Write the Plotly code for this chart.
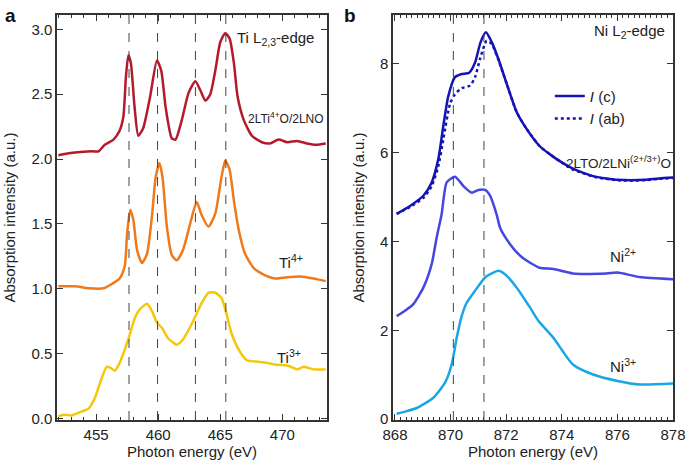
import plotly.graph_objects as go
from plotly.subplots import make_subplots

# ---- panel a: Ti L2,3-edge ----
ti_lno_e = [451.96, 453.3, 454.65, 455.2, 455.7, 456.4, 456.9, 457.2, 457.4, 457.6, 457.8, 458.1,
            458.4, 458.8, 459.35, 459.9, 460.25, 460.6, 461.1, 461.4, 461.9, 462.45, 463.0, 463.4,
            463.8, 464.2, 464.6, 465.0, 465.4, 465.75, 466.1, 466.4, 466.9, 467.55, 468.35, 469.0,
            469.7, 470.4, 471.2, 472.0, 472.7, 473.5]
ti_lno_v = [2.03, 2.05, 2.06, 2.06, 2.11, 2.15, 2.22, 2.33, 2.63, 2.80, 2.74, 2.40,
            2.18, 2.24, 2.48, 2.76, 2.68, 2.40, 2.16, 2.15, 2.30, 2.51, 2.60, 2.53,
            2.45, 2.50, 2.68, 2.90, 2.97, 2.93, 2.74, 2.48, 2.30, 2.18, 2.13, 2.12,
            2.15, 2.13, 2.14, 2.12, 2.11, 2.12]

ti4_e = [451.96, 453.3, 454.4, 455.6, 456.3, 456.9, 457.3, 457.5, 457.75, 458.0, 458.3, 458.7,
         459.1, 459.5, 459.8, 460.1, 460.35, 460.7, 461.1, 461.5, 462.0, 462.6, 463.1, 463.5,
         464.05, 464.6, 465.1, 465.4, 465.75, 466.1, 466.5, 467.0, 467.7, 468.5, 469.4, 470.4,
         471.45, 472.5, 473.5]
ti4_v = [1.02, 1.02, 1.005, 1.005, 1.04, 1.08, 1.17, 1.43, 1.61, 1.53, 1.30, 1.20,
         1.27, 1.56, 1.86, 1.97, 1.86, 1.48, 1.26, 1.22, 1.30, 1.51, 1.67, 1.57,
         1.48, 1.58, 1.86, 1.99, 1.92, 1.68, 1.45, 1.27, 1.16, 1.11, 1.08, 1.09,
         1.095, 1.08, 1.06]

ti3_e = [451.96, 452.5, 453.0, 453.7, 454.4, 454.9, 455.3, 455.85, 456.2, 456.5, 456.9, 457.3,
         457.75, 458.1, 458.5, 459.1, 459.5, 459.9, 460.3, 460.8, 461.5, 462.0, 462.6, 463.0,
         463.5, 464.05, 464.6, 465.1, 465.5, 465.9, 466.5, 467.15, 467.95, 468.75, 469.6, 470.4,
         471.2, 471.7, 472.5, 473.5]
ti3_v = [0.02, 0.03, 0.025, 0.05, 0.08, 0.16, 0.27, 0.40, 0.39, 0.37, 0.43, 0.53,
         0.66, 0.77, 0.84, 0.885, 0.83, 0.74, 0.70, 0.62, 0.57, 0.61, 0.71, 0.79,
         0.89, 0.97, 0.97, 0.93, 0.81, 0.66, 0.53, 0.45, 0.44, 0.43, 0.415, 0.41,
         0.38, 0.40, 0.38, 0.38]

ti_marks = [457.65, 459.95, 463.0, 465.45]

# ---- panel b: Ni L2-edge ----
ni_c_e = [868.06, 868.54, 869.02, 869.32, 869.56, 869.74, 869.92, 870.16, 870.4, 870.67, 870.88,
          871.08, 871.27, 871.48, 871.72, 872.02, 872.38, 872.74, 873.2, 873.6, 874.0, 874.4,
          874.8, 875.2, 875.6, 876.0, 876.5, 877.0, 877.5, 878.0]
ni_c_v = [4.62, 4.80, 5.03, 5.33, 5.86, 6.61, 7.28, 7.70, 7.77, 7.80, 8.03,
          8.49, 8.71, 8.49, 8.11, 7.55, 6.91, 6.53, 6.15, 5.95, 5.78, 5.64,
          5.54, 5.46, 5.42, 5.39, 5.38, 5.39, 5.42, 5.44]

ni_ab_e = [868.06, 868.54, 869.02, 869.32, 869.56, 869.74, 869.98, 870.16, 870.4, 870.7, 870.88,
           871.06, 871.3, 871.48, 871.72, 872.02, 872.38, 872.74, 873.2, 873.6, 874.0, 874.4,
           874.8, 875.2, 875.6, 876.0, 876.5, 877.0, 877.5, 878.0]
ni_ab_v = [4.62, 4.78, 4.98, 5.25, 5.70, 6.31, 7.10, 7.32, 7.45, 7.51, 7.70,
           8.11, 8.52, 8.45, 8.09, 7.55, 6.91, 6.53, 6.15, 5.95, 5.78, 5.62,
           5.53, 5.45, 5.41, 5.38, 5.37, 5.38, 5.41, 5.43]

ni2_e = [868.06, 868.36, 868.66, 869.02, 869.32, 869.5, 869.68, 869.86, 870.16, 870.46, 870.76,
         871.0, 871.24, 871.42, 871.66, 871.78, 872.14, 872.5, 872.86, 873.2, 873.7, 874.4,
         875.6, 876.0, 876.8, 878.0]
ni2_v = [2.32, 2.44, 2.59, 2.96, 3.49, 4.09, 4.62, 5.33, 5.46, 5.25, 5.10,
         5.16, 5.16, 5.03, 4.60, 4.31, 3.94, 3.68, 3.52, 3.41, 3.38, 3.28,
         3.28, 3.30, 3.20, 3.15]

ni3_e = [868.06, 868.42, 868.78, 869.38, 869.8, 870.04, 870.22, 870.4, 870.58, 870.88, 871.24,
         871.48, 871.72, 871.96, 872.38, 872.86, 873.15, 873.7, 874.4, 875.1, 876.0, 876.8, 878.0]
ni3_v = [0.12, 0.18, 0.25, 0.48, 0.82, 1.23, 1.83, 2.32, 2.62, 2.89, 3.19,
         3.28, 3.34, 3.26, 2.96, 2.51, 2.22, 1.83, 1.23, 1.01, 0.86, 0.78, 0.80]

ni_marks = [870.1, 871.2]

FONT = "Liberation Sans, Arial, sans-serif"
DASH = "#444444"

fig = make_subplots(rows=1, cols=2)


def curve(x, y, color, dash="solid", name=None):
    return go.Scatter(x=x, y=y, mode="lines", name=name, showlegend=name is not None,
                      line=dict(color=color, width=2.5, dash=dash, shape="spline", smoothing=0.6))


fig.add_trace(curve(ti_lno_e, ti_lno_v, "#b31b2c"), 1, 1)
fig.add_trace(curve(ti4_e, ti4_v, "#f07a1a"), 1, 1)
fig.add_trace(curve(ti3_e, ti3_v, "#f5c70a"), 1, 1)

fig.add_trace(curve(ni3_e, ni3_v, "#1aa6e6"), 1, 2)
fig.add_trace(curve(ni2_e, ni2_v, "#4646e0"), 1, 2)
fig.add_trace(curve(ni_ab_e, ni_ab_v, "#1414b4", "dot", "<i>I</i> (ab)"), 1, 2)
fig.add_trace(curve(ni_c_e, ni_c_v, "#1414b4", "solid", "<i>I</i> (c)"), 1, 2)

for v in ti_marks:
    fig.add_vline(x=v, line=dict(color=DASH, width=1, dash="dash"), row=1, col=1)
for v in ni_marks:
    fig.add_vline(x=v, line=dict(color=DASH, width=1, dash="dash"), row=1, col=2)

axis_style = dict(showline=True, linecolor="#333333", linewidth=1.5, mirror="ticks", ticks="inside",
                  tickcolor="#333333", showgrid=False, zeroline=False, automargin=False,
                  ticklabeloverflow="allow",
                  tickfont=dict(family=FONT, size=15, color="#222222"),
                  title_font=dict(family=FONT, size=15, color="#222222"))

fig.update_xaxes(**axis_style)
fig.update_yaxes(**axis_style)

fig.update_xaxes(domain=[0, 0.4383], range=[451.85, 473.6], tickvals=[455, 460, 465, 470], ticklen=6,
                 minor=dict(ticks="inside", dtick=1, tick0=455, ticklen=3, tickcolor="#333333"),
                 title_text="Photon energy (eV)", title_standoff=0, row=1, col=1)
fig.update_yaxes(range=[-0.01, 3.11], tickvals=[0, 0.5, 1.0, 1.5, 2.0, 2.5, 3.0], tickformat=".1f",
                 ticklen=6, title_text="Absorption intensity (a.u.)", title_standoff=12, row=1, col=1)
fig.update_xaxes(domain=[0.5455, 1], range=[867.93, 878.0], tickvals=[868, 870, 872, 874, 876, 878], ticklen=6,
                 minor=dict(ticks="inside", dtick=0.2, tick0=868, ticklen=3, tickcolor="#333333"),
                 title_text="Photon energy (eV)", title_standoff=0, row=1, col=2)
fig.update_yaxes(range=[-0.02, 9.1], tickvals=[0, 2, 4, 6, 8], ticklen=6,
                 title_text="Absorption intensity (a.u.)", title_standoff=12, row=1, col=2)

txt = dict(family=FONT, size=15, color="#222222")
panel = dict(family=FONT, size=19, color="#111111")
annos = [
    dict(x=0.0, y=1.0, xref="paper", yref="paper", text="<b>a</b>", font=panel, xanchor="right", yanchor="middle", xshift=-39),
    dict(x=0.5455, y=1.0, xref="paper", yref="paper", text="<b>b</b>", font=panel, xanchor="right", yanchor="middle", xshift=-35),
    dict(x=473.55, y=2.93, xref="x", yref="y", text="Ti L<sub>2,3</sub>-edge", font=txt, xanchor="right", yanchor="middle", xshift=-10),
    dict(x=473.55, y=2.32, xref="x", yref="y", text="2LTi<sup>4+</sup>O/2LNO",
         font=dict(family=FONT, size=12, color="#222222"), xanchor="right", yanchor="middle"),
    dict(x=470.7, y=1.21, xref="x", yref="y", text="Ti<sup>4+</sup>", font=txt, xanchor="center", yanchor="middle"),
    dict(x=470.5, y=0.48, xref="x", yref="y", text="Ti<sup>3+</sup>", font=txt, xanchor="center", yanchor="middle"),
    dict(x=877.8, y=8.72, xref="x2", yref="y2", text="Ni L<sub>2</sub>-edge", font=txt, xanchor="right", yanchor="middle"),
    dict(x=878.0, y=5.8, xref="x2", yref="y2", text="2LTO/2LNi<sup>(2+/3+)</sup>O",
         font=dict(family=FONT, size=13.5, color="#222222"), xanchor="right", yanchor="middle"),
    dict(x=876.2, y=3.68, xref="x2", yref="y2", text="Ni<sup>2+</sup>", font=txt, xanchor="center", yanchor="middle"),
    dict(x=876.2, y=1.2, xref="x2", yref="y2", text="Ni<sup>3+</sup>", font=txt, xanchor="center", yanchor="middle"),
]
for a in annos:
    a["showarrow"] = False

fig.update_layout(
    width=685, height=464,
    margin=dict(l=57, r=12, t=15, b=44),
    paper_bgcolor="white", plot_bgcolor="white",
    font=dict(family=FONT, size=15, color="#222222"),
    annotations=annos,
    legend=dict(x=0.80, y=0.84, xanchor="left", yanchor="top", bgcolor="rgba(0,0,0,0)",
                font=dict(family=FONT, size=15), traceorder="reversed", itemwidth=30,
                tracegroupgap=0),
)

# page body has a default 8px margin; drop it so the figure fills the window
fig.write_html("out.html", config={"displayModeBar": False},
               post_script="document.body.style.margin = '0';")
